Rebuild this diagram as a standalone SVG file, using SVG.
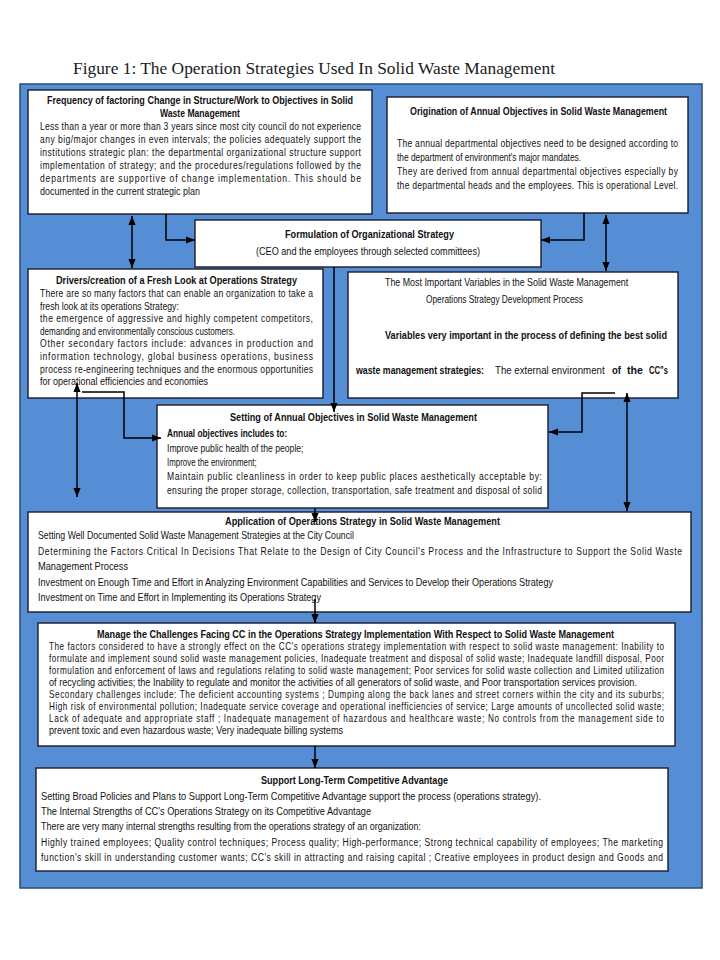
<svg xmlns="http://www.w3.org/2000/svg" width="720" height="960" viewBox="0 0 720 960">
<defs>
<style>
.title{font-family:"Liberation Serif","DejaVu Serif",serif;font-size:17px;fill:#1a1a1a}
text{font-family:"Liberation Sans","Arial",sans-serif}
.n{font-size:11px;fill:#111}
.s{font-size:10.5px;fill:#111}
.b{font-size:11px;font-weight:bold;fill:#111}
.box{fill:#fff;stroke:#1b1b2b;stroke-width:1.4}
.bg{fill:#558ED5;stroke:#2c4a74;stroke-width:1.5}
.c{fill:none;stroke:#000;stroke-width:1.5}
</style>
<marker id="ah" viewBox="0 0 10 10" refX="10" refY="5" markerWidth="9" markerHeight="9" markerUnits="userSpaceOnUse" orient="auto-start-reverse">
<path d="M0,1 L10,5 L0,9 z" fill="#000"/>
</marker>
</defs>
<rect width="720" height="960" fill="#fff"/>
<text class="title" x="73" y="74" textLength="482" lengthAdjust="spacingAndGlyphs">Figure 1: The Operation Strategies Used In Solid Waste Management</text>
<rect class="bg" x="20" y="84" width="682" height="804"/>

<g id="node-frequency">
<rect class="box" x="28" y="90" width="344" height="124"/>
<text class="b" x="47" y="104" textLength="306" lengthAdjust="spacingAndGlyphs">Frequency of factoring Change in Structure/Work to Objectives in Solid</text>
<text class="b" x="160" y="117" textLength="80" lengthAdjust="spacingAndGlyphs">Waste Management</text>
<text class="n" transform="translate(40,130) scale(0.78,1)" textLength="411.5" lengthAdjust="spacing">Less than a year or more than 3 years since most city council do not experience</text>
<text class="n" transform="translate(40,143) scale(0.78,1)" textLength="411.5" lengthAdjust="spacing">any big/major changes in even intervals; the policies adequately support the</text>
<text class="n" transform="translate(40,156) scale(0.78,1)" textLength="411.5" lengthAdjust="spacing">institutions strategic plan: the departmental organizational structure support</text>
<text class="n" transform="translate(40,169) scale(0.78,1)" textLength="411.5" lengthAdjust="spacing">implementation of strategy; and the procedures/regulations followed by the</text>
<text class="n" transform="translate(40,182) scale(0.78,1)" textLength="411.5" lengthAdjust="spacing">departments are supportive of change implementation. This should be</text>
<text class="n" transform="translate(40,195) scale(0.78,1)" textLength="205" lengthAdjust="spacingAndGlyphs">documented in the current strategic plan</text>
</g>

<g id="node-origination">
<rect class="box" x="387" y="97" width="301" height="116"/>
<text class="b" transform="translate(410,115) scale(0.85,1)" textLength="302.4" lengthAdjust="spacingAndGlyphs">Origination of Annual Objectives in Solid Waste Management</text>
<text class="n" transform="translate(397,147) scale(0.78,1)" textLength="360.3" lengthAdjust="spacing">The annual departmental objectives need to be designed according to</text>
<text class="n" transform="translate(397,161) scale(0.78,1)" textLength="236" lengthAdjust="spacingAndGlyphs">the department of environment's major mandates.</text>
<text class="n" transform="translate(397,175) scale(0.78,1)" textLength="360.3" lengthAdjust="spacing">They are derived from annual departmental objectives especially by</text>
<text class="n" transform="translate(397,189) scale(0.78,1)" textLength="360.3" lengthAdjust="spacing">the departmental heads and the employees. This is operational Level.</text>
</g>

<g id="node-formulation">
<rect class="box" x="195" y="220" width="346" height="47"/>
<text class="b" x="285" y="238" textLength="169" lengthAdjust="spacingAndGlyphs">Formulation of Organizational Strategy</text>
<text class="n" transform="translate(256,255) scale(0.78,1)" textLength="287.2" lengthAdjust="spacingAndGlyphs">(CEO and the employees through selected committees)</text>
</g>

<g id="node-drivers">
<rect class="box" x="28" y="269" width="295" height="129"/>
<text class="b" x="56" y="284" textLength="241" lengthAdjust="spacingAndGlyphs">Drivers/creation of a Fresh Look at Operations Strategy</text>
<text class="n" transform="translate(40,297) scale(0.78,1)" textLength="350" lengthAdjust="spacing">There are so many factors that can enable an organization to take a</text>
<text class="n" transform="translate(40,309.6) scale(0.78,1)" textLength="178" lengthAdjust="spacingAndGlyphs">fresh look at its operations Strategy:</text>
<text class="n" transform="translate(40,322.2) scale(0.78,1)" textLength="350" lengthAdjust="spacing">the emergence of aggressive and highly competent competitors,</text>
<text class="n" transform="translate(40,334.8) scale(0.78,1)" textLength="250" lengthAdjust="spacingAndGlyphs">demanding and environmentally conscious customers.</text>
<text class="n" transform="translate(40,347.4) scale(0.78,1)" textLength="350" lengthAdjust="spacing">Other secondary factors include: advances in production and</text>
<text class="n" transform="translate(40,360) scale(0.78,1)" textLength="350" lengthAdjust="spacing">information technology, global business operations, business</text>
<text class="n" transform="translate(40,372.6) scale(0.78,1)" textLength="350" lengthAdjust="spacing">process re-engineering techniques and the enormous opportunities</text>
<text class="n" transform="translate(40,385.2) scale(0.78,1)" textLength="215.4" lengthAdjust="spacingAndGlyphs">for operational efficiencies and economies</text>
</g>

<g id="node-variables">
<rect class="box" x="348" y="272" width="330" height="126"/>
<text class="n" transform="translate(385,286) scale(0.8,1)" textLength="304" lengthAdjust="spacingAndGlyphs">The Most Important Variables in the Solid Waste Management</text>
<text class="n" transform="translate(426,303) scale(0.8,1)" textLength="196" lengthAdjust="spacingAndGlyphs">Operations Strategy Development Process</text>
<text class="b" transform="translate(385,339) scale(0.8,1)" textLength="352.5" lengthAdjust="spacingAndGlyphs">Variables very important in the process of defining the best solid</text>
<text class="b" transform="translate(356,374) scale(0.8,1)" textLength="160" lengthAdjust="spacingAndGlyphs">waste management strategies:</text>
<text class="n" transform="translate(495,374) scale(0.8,1)" textLength="137" lengthAdjust="spacingAndGlyphs">The external environment</text>
<text class="b" x="612" y="374" textLength="9" lengthAdjust="spacingAndGlyphs">of</text>
<text class="b" x="627" y="374" textLength="16" lengthAdjust="spacingAndGlyphs">the</text>
<text class="b" x="649" y="374" textLength="19" lengthAdjust="spacingAndGlyphs">CC"s</text>
</g>

<g id="node-setting">
<rect class="box" x="157" y="405" width="391" height="103"/>
<text class="b" x="230" y="421" textLength="247" lengthAdjust="spacingAndGlyphs">Setting of Annual Objectives in Solid Waste Management</text>
<text class="b" x="167" y="437" textLength="120" lengthAdjust="spacingAndGlyphs">Annual objectives includes to:</text>
<text class="n" transform="translate(167,452) scale(0.78,1)" textLength="175" lengthAdjust="spacingAndGlyphs">Improve public health of the people;</text>
<text class="n" transform="translate(167,466) scale(0.78,1)" textLength="115" lengthAdjust="spacingAndGlyphs">Improve the environment;</text>
<text class="n" transform="translate(167,480) scale(0.78,1)" textLength="480.8" lengthAdjust="spacing">Maintain public cleanliness in order to keep public places aesthetically acceptable by:</text>
<text class="n" transform="translate(167,494) scale(0.78,1)" textLength="480.8" lengthAdjust="spacing">ensuring the proper storage, collection, transportation, safe treatment and disposal of solid</text>
</g>

<g id="node-application">
<rect class="box" x="28" y="512" width="663" height="100"/>
<text class="b" x="225" y="525" textLength="275" lengthAdjust="spacingAndGlyphs">Application of Operations Strategy in Solid Waste Management</text>
<text class="n" transform="translate(38,539) scale(0.78,1)" textLength="405.1" lengthAdjust="spacingAndGlyphs">Setting Well Documented Solid Waste Management Strategies at the City Council</text>
<text class="n" transform="translate(38,555) scale(0.78,1)" textLength="825.6" lengthAdjust="spacing">Determining the Factors Critical In Decisions That Relate to the Design of City  Council's Process and the Infrastructure to Support the Solid Waste</text>
<text class="n" transform="translate(38,570) scale(0.78,1)" textLength="115.4" lengthAdjust="spacingAndGlyphs">Management Process</text>
<text class="n" transform="translate(38,586) scale(0.78,1)" textLength="660.3" lengthAdjust="spacingAndGlyphs">Investment on Enough Time and Effort in Analyzing Environment Capabilities and Services to Develop their Operations Strategy</text>
<text class="n" transform="translate(38,601) scale(0.78,1)" textLength="362.8" lengthAdjust="spacingAndGlyphs">Investment on Time and Effort in Implementing its Operations Strategy</text>
</g>

<g id="node-manage">
<rect class="box" x="38" y="623" width="637" height="123"/>
<text class="b" transform="translate(97,638) scale(0.85,1)" textLength="608.2" lengthAdjust="spacingAndGlyphs">Manage the Challenges Facing CC in the Operations Strategy Implementation With Respect to Solid Waste Management</text>
<text class="s" transform="translate(49,650) scale(0.78,1)" textLength="788.5" lengthAdjust="spacing">The factors considered to have a strongly effect on the CC's operations strategy implementation with respect to solid waste management: Inability to</text>
<text class="s" transform="translate(49,662) scale(0.78,1)" textLength="788.5" lengthAdjust="spacing">formulate and implement sound solid waste management policies, Inadequate treatment and disposal of solid waste; Inadequate landfill disposal,  Poor</text>
<text class="s" transform="translate(49,674) scale(0.78,1)" textLength="788.5" lengthAdjust="spacing">formulation and enforcement of laws and regulations relating to solid waste management; Poor services for solid waste collection and Limited utilization</text>
<text class="s" transform="translate(49,686) scale(0.78,1)" textLength="753.8" lengthAdjust="spacingAndGlyphs">of recycling activities;  the Inability to regulate and monitor the activities of all generators of solid waste, and Poor transportation services provision.</text>
<text class="s" transform="translate(49,698) scale(0.78,1)" textLength="788.5" lengthAdjust="spacing">Secondary challenges include: The deficient  accounting systems ; Dumping along the back lanes and street corners within the city and its suburbs;</text>
<text class="s" transform="translate(49,710) scale(0.78,1)" textLength="788.5" lengthAdjust="spacing">High risk of environmental pollution; Inadequate service coverage and operational inefficiencies of service; Large amounts of uncollected solid waste;</text>
<text class="s" transform="translate(49,722) scale(0.78,1)" textLength="788.5" lengthAdjust="spacing">Lack of adequate and appropriate staff ; Inadequate management of hazardous and healthcare waste; No controls from the management side to</text>
<text class="s" transform="translate(49,734) scale(0.78,1)" textLength="376.9" lengthAdjust="spacingAndGlyphs">prevent toxic and even hazardous waste; Very inadequate billing systems</text>
</g>

<g id="node-support">
<rect class="box" x="36" y="768" width="632" height="103"/>
<text class="b" x="261" y="784" textLength="187" lengthAdjust="spacingAndGlyphs">Support Long-Term Competitive Advantage</text>
<text class="n" transform="translate(41,800) scale(0.78,1)" textLength="641" lengthAdjust="spacingAndGlyphs">Setting Broad Policies and Plans to Support Long-Term Competitive Advantage support the process (operations strategy).</text>
<text class="n" transform="translate(41,815) scale(0.78,1)" textLength="423.1" lengthAdjust="spacingAndGlyphs">The Internal Strengths of CC's Operations Strategy on its Competitive Advantage</text>
<text class="n" transform="translate(41,830) scale(0.78,1)" textLength="487.2" lengthAdjust="spacingAndGlyphs">There are very many internal strengths resulting from the operations strategy of an organization:</text>
<text class="n" transform="translate(41,846) scale(0.78,1)" textLength="797.4" lengthAdjust="spacing">Highly trained employees; Quality control techniques; Process quality; High-performance; Strong technical capability of employees; The marketing</text>
<text class="n" transform="translate(41,861) scale(0.78,1)" textLength="797.4" lengthAdjust="spacing">function's skill in understanding customer wants; CC's skill in attracting and raising capital ; Creative employees in product design and Goods and</text>
</g>

<g id="connectors">
<path class="c" d="M132,216 V268" marker-start="url(#ah)" marker-end="url(#ah)"/>
<path class="c" d="M606,215 V271" marker-start="url(#ah)" marker-end="url(#ah)"/>
<path class="c" d="M166,214 V240 H195" marker-end="url(#ah)"/>
<path class="c" d="M584,213 V240 H541" marker-end="url(#ah)"/>
<path class="c" d="M334,267 V412" marker-end="url(#ah)"/>
<path class="c" d="M77,383 V497" marker-start="url(#ah)" marker-end="url(#ah)"/>
<path class="c" d="M82,392 H124 V438 H161" marker-end="url(#ah)"/>
<path class="c" d="M615,393 H582 V432 H549" marker-end="url(#ah)"/>
<path class="c" d="M627,393 V511" marker-start="url(#ah)" marker-end="url(#ah)"/>
<path class="c" d="M315,508 V522" marker-end="url(#ah)"/>
<path class="c" d="M315,599 V623" marker-end="url(#ah)"/>
<path class="c" d="M315,746 V768" marker-end="url(#ah)"/>
</g>
</svg>
